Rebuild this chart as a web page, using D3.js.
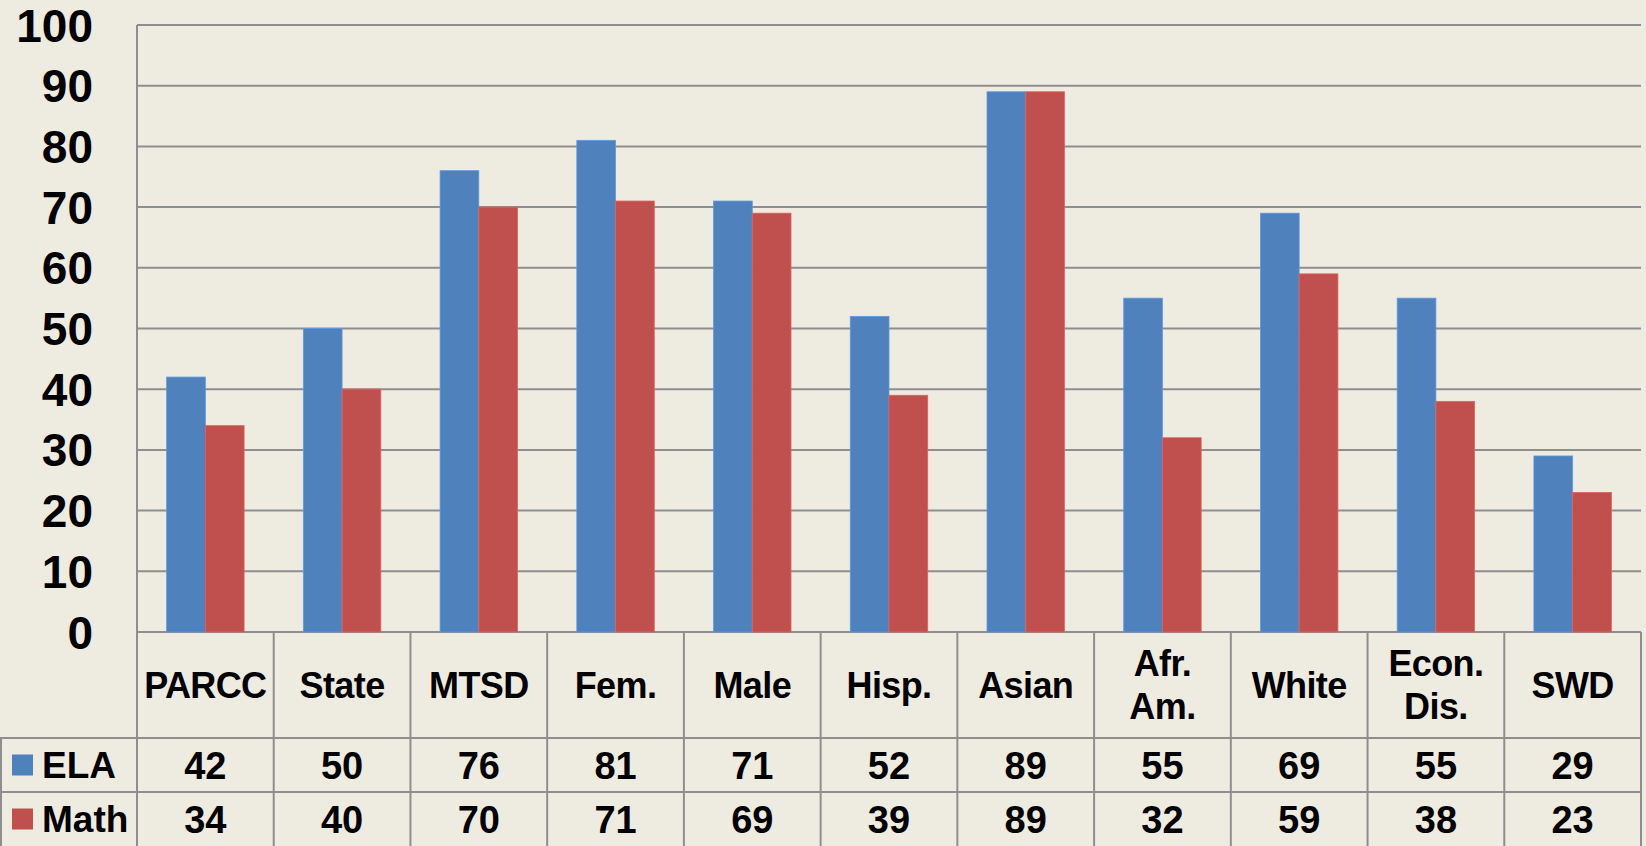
<!DOCTYPE html>
<html>
<head>
<meta charset="utf-8">
<title>ELA and Math</title>
<script src="https://d3js.org/d3.v7.min.js"></script>
<style>
  body { margin: 0; padding: 0; background: #EEECE1; }
  svg { display: block; font-family: "Liberation Sans", Arial, sans-serif; font-weight: bold; }
</style>
</head>
<body>
<div id="chart"></div>
<script>
// data
var categories = [["PARCC"], ["State"], ["MTSD"], ["Fem."], ["Male"], ["Hisp."], ["Asian"], ["Afr.", "Am."], ["White"], ["Econ.", "Dis."], ["SWD"]];
var ela  = [42, 50, 76, 81, 71, 52, 89, 55, 69, 55, 29];
var math = [34, 40, 70, 71, 69, 39, 89, 32, 59, 38, 23];
var seriesNames = ["ELA", "Math"];
var seriesColors = ["#4F81BD", "#C0504D"];
var yTicks = [0, 10, 20, 30, 40, 50, 60, 70, 80, 90, 100];

var width = 1646, height = 846;
var plotLeft = 137, plotRight = 1641, plotTop = 25, plotBottom = 632;
var catRowBottom = 738, elaRowBottom = 792, mathRowBottom = 846;
var gridColor = "#8E8E8E";

var svg = d3.select("#chart").append("svg")
  .attr("width", width)
  .attr("height", height);

var keys = categories.map(function(d, i) { return i; });

var x = d3.scaleBand()
  .domain(keys)
  .range([plotLeft, plotRight])
  .paddingInner(0)
  .paddingOuter(0);

var xInner = d3.scaleBand()
  .domain([0, 1])
  .range([0, x.bandwidth()])
  .paddingOuter(0.765)
  .paddingInner(0);

var y = d3.scaleLinear()
  .domain([0, 100])
  .range([plotBottom, plotTop]);

// gridlines
svg.append("g").selectAll("line")
  .data(yTicks)
  .enter().append("line")
    .attr("x1", plotLeft)
    .attr("x2", plotRight)
    .attr("y1", function(d) { return y(d); })
    .attr("y2", function(d) { return y(d); })
    .attr("stroke", gridColor)
    .attr("stroke-width", 2);

// y labels
svg.append("g").selectAll("text")
  .data(yTicks)
  .enter().append("text")
    .attr("x", 93)
    .attr("y", function(d) { return y(d); })
    .attr("dy", "0.36em")
    .attr("text-anchor", "end")
    .attr("font-size", 46)
    .attr("fill", "#000")
    .text(function(d) { return d; });

// bars
var series = [ela, math];
series.forEach(function(vals, s) {
  svg.append("g").selectAll("rect")
    .data(vals)
    .enter().append("rect")
      .attr("x", function(d, i) { return x(i) + xInner(s); })
      .attr("y", function(d) { return y(d); })
      .attr("width", xInner.bandwidth())
      .attr("height", function(d) { return y(0) - y(d); })
      .attr("fill", seriesColors[s])
      .attr("stroke", d3.color(seriesColors[s]).brighter(0.5))
      .attr("stroke-width", 0.8);
});

// data table lines
var table = svg.append("g");
// left axis line through table
table.append("line")
  .attr("x1", plotLeft).attr("x2", plotLeft)
  .attr("y1", plotTop).attr("y2", mathRowBottom)
  .attr("stroke", gridColor).attr("stroke-width", 2);
// column separators in table
table.selectAll(".col")
  .data(keys.slice(1).concat([keys.length]))
  .enter().append("line")
    .attr("x1", function(d) { return d < keys.length ? x(d) : plotRight; })
    .attr("x2", function(d) { return d < keys.length ? x(d) : plotRight; })
    .attr("y1", plotBottom)
    .attr("y2", mathRowBottom)
    .attr("stroke", gridColor)
    .attr("stroke-width", 2);
// row separators
[catRowBottom, elaRowBottom].forEach(function(yy) {
  table.append("line")
    .attr("x1", 0).attr("x2", plotRight)
    .attr("y1", yy).attr("y2", yy)
    .attr("stroke", gridColor).attr("stroke-width", 2);
});
table.append("line")
  .attr("x1", 1).attr("x2", 1)
  .attr("y1", catRowBottom).attr("y2", mathRowBottom)
  .attr("stroke", gridColor).attr("stroke-width", 2);

// category labels
var catMid = (plotBottom + catRowBottom) / 2;
svg.append("g").selectAll("text")
  .data(categories)
  .enter().append("text")
    .attr("text-anchor", "middle")
    .attr("font-size", 36)
    .attr("letter-spacing", -0.6)
    .attr("fill", "#000")
    .each(function(lines, i) {
      var t = d3.select(this);
      var lh = 43;
      var start = catMid - (lines.length - 1) * lh / 2;
      lines.forEach(function(l, k) {
        t.append("tspan")
          .attr("x", x(i) + x.bandwidth() / 2)
          .attr("y", start + k * lh)
          .attr("dy", "0.36em")
          .text(l);
      });
    });

// value rows
var rowMids = [(catRowBottom + elaRowBottom) / 2, (elaRowBottom + mathRowBottom) / 2];
series.forEach(function(vals, s) {
  svg.append("g").selectAll("text")
    .data(vals)
    .enter().append("text")
      .attr("x", function(d, i) { return x(i) + x.bandwidth() / 2; })
      .attr("y", rowMids[s])
      .attr("dy", "0.36em")
      .attr("text-anchor", "middle")
      .attr("font-size", 38)
      .attr("fill", "#000")
      .text(function(d) { return d; });

  // legend key
  svg.append("rect")
    .attr("x", 12)
    .attr("y", rowMids[s] - 10.5)
    .attr("width", 21)
    .attr("height", 21)
    .attr("fill", seriesColors[s]);
  svg.append("text")
    .attr("x", 42)
    .attr("y", rowMids[s])
    .attr("dy", "0.36em")
    .attr("font-size", 37)
    .attr("fill", "#000")
    .text(seriesNames[s]);
});
</script>
</body>
</html>
